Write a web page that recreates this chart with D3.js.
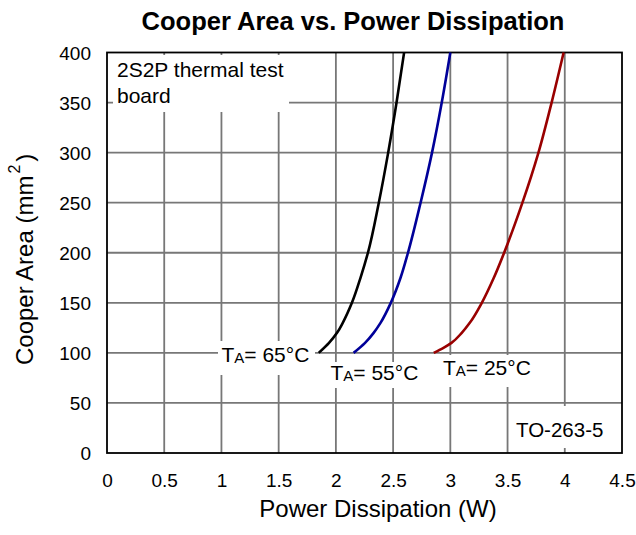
<!DOCTYPE html>
<html>
<head>
<meta charset="utf-8">
<script src="https://cdn.jsdelivr.net/npm/d3@7"></script>
<style>
  html, body { margin: 0; padding: 0; background: #fff; }
  svg { display: block; font-family: Arial, "Liberation Sans", Helvetica, sans-serif; }
</style>
</head>
<body>
<svg id="chart" width="636" height="535"></svg>
<script>
// ---- data ----
const xTicks = [0, 0.5, 1, 1.5, 2, 2.5, 3, 3.5, 4, 4.5];
const xTickLabels = ["0", "0.5", "1", "1.5", "2", "2.5", "3", "3.5", "4", "4.5"];
const yTicks = [0, 50, 100, 150, 200, 250, 300, 350, 400];
const yTickLabels = ["0", "50", "100", "150", "200", "250", "300", "350", "400"];

const area65 = [100, 110, 120, 130, 150, 175, 200, 250, 300, 350, 400];
const power65 = [1.85, 1.94, 2.01, 2.06, 2.14, 2.215, 2.28, 2.375, 2.457, 2.53, 2.596];

const area55 = [100, 110, 120, 130, 150, 175, 200, 250, 300, 350, 400];
const power55 = [2.155, 2.255, 2.33, 2.39, 2.48, 2.565, 2.63, 2.74, 2.84, 2.925, 3.0];

const area25 = [100, 105, 110, 120, 130, 150, 175, 200, 250, 300, 350, 400];
const power25 = [2.855, 2.94, 3.01, 3.10, 3.17, 3.275, 3.38, 3.47, 3.63, 3.77, 3.885, 3.99];

const seriesNames = ["65", "55", "25"];
const seriesColors = ["#000000", "#000099", "#990000"];

// ---- layout ----
const L = 107, R = 622, T = 52.5, B = 453;
const svg = d3.select("#chart");
const x = d3.scaleLinear().domain([0, 4.5]).range([L, R]);
const y = d3.scaleLinear().domain([0, 400]).range([B, T]);

// grid
const grid = svg.append("g");
grid.selectAll("line.vx").data(xTicks.slice(1, -1)).join("line")
  .attr("x1", d => x(d)).attr("x2", d => x(d)).attr("y1", T).attr("y2", B)
  .attr("stroke", "#777").attr("stroke-width", 1.8);
grid.selectAll("line.hy").data(yTicks.slice(1, -1)).join("line")
  .attr("x1", L).attr("x2", R).attr("y1", d => y(d)).attr("y2", d => y(d))
  .attr("stroke", "#777").attr("stroke-width", 1.8);

// white label boxes (cover grid)
const boxes = [
  [113, 55, 176, 57],
  [218, 341, 97, 34],
  [327, 362, 93, 26],
  [438, 355, 94, 32],
  [509, 406, 111, 42]
];
svg.append("g").selectAll("rect").data(boxes).join("rect")
  .attr("x", d => d[0]).attr("y", d => d[1]).attr("width", d => d[2]).attr("height", d => d[3])
  .attr("fill", "#fff");

// border
svg.append("rect").attr("x", L).attr("y", T).attr("width", R - L).attr("height", B - T)
  .attr("fill", "none").attr("stroke", "#000").attr("stroke-width", 1.8);

// curves
const line = d3.line().x(d => x(d[0])).y(d => y(d[1])).curve(d3.curveMonotoneY);
const series = [
  d3.zip(power65, area65),
  d3.zip(power55, area55),
  d3.zip(power25, area25)
];
svg.append("g").selectAll("path").data(series).join("path")
  .attr("d", line).attr("fill", "none")
  .attr("stroke", (d, i) => seriesColors[i]).attr("stroke-width", 2.6)
  .attr("stroke-linejoin", "round");

// axes tick labels
const yAxis = d3.axisLeft(y).tickValues(yTicks).tickFormat((d, i) => yTickLabels[i]).tickSize(0).tickPadding(16);
const gy = svg.append("g").attr("transform", `translate(${L},0)`).call(yAxis);
gy.select(".domain").remove();
gy.selectAll("text").attr("font-size", 19).attr("font-family", "Arial, 'Liberation Sans', sans-serif").attr("fill", "#000").attr("dy", "0.36em");

const xAxis = d3.axisBottom(x).tickValues(xTicks).tickFormat((d, i) => xTickLabels[i]).tickSize(0).tickPadding(21);
const gx = svg.append("g").attr("transform", `translate(0,${B})`).call(xAxis);
gx.select(".domain").remove();
gx.selectAll("text").attr("font-size", 19).attr("font-family", "Arial, 'Liberation Sans', sans-serif").attr("fill", "#000");

// title
svg.append("text").attr("x", 353).attr("y", 30).attr("text-anchor", "middle")
  .attr("font-size", 25.5).attr("font-weight", "bold").text("Cooper Area vs. Power Dissipation");

// axis titles
svg.append("text").attr("x", 378).attr("y", 517).attr("text-anchor", "middle")
  .attr("font-size", 24).text("Power Dissipation (W)");

const yt = svg.append("text").attr("transform", "translate(33,365) rotate(-90)")
  .attr("font-size", 24);
yt.append("tspan").text("Cooper Area (mm");
yt.append("tspan").attr("font-size", 16).attr("dx", 2).attr("dy", -13).text("2");
yt.append("tspan").attr("dx", 3).attr("dy", 13).text(")");

// annotations
svg.append("text").attr("x", 117).attr("y", 77).attr("font-size", 21).text("2S2P thermal test");
svg.append("text").attr("x", 117).attr("y", 103).attr("font-size", 21).text("board");
svg.append("text").attr("x", 516).attr("y", 437).attr("font-size", 20.5).text("TO-263-5");

const labelPos = [[221.5, 362], [330.5, 380], [443, 375]];
seriesNames.forEach((n, i) => {
  const t = svg.append("text").attr("x", labelPos[i][0]).attr("y", labelPos[i][1]).attr("font-size", 21);
  t.append("tspan").text("T");
  t.append("tspan").attr("font-size", 15).attr("dy", 1).text("A");
  t.append("tspan").attr("dy", -1).text("= " + n + "\u00B0C");
});
</script>
</body>
</html>
